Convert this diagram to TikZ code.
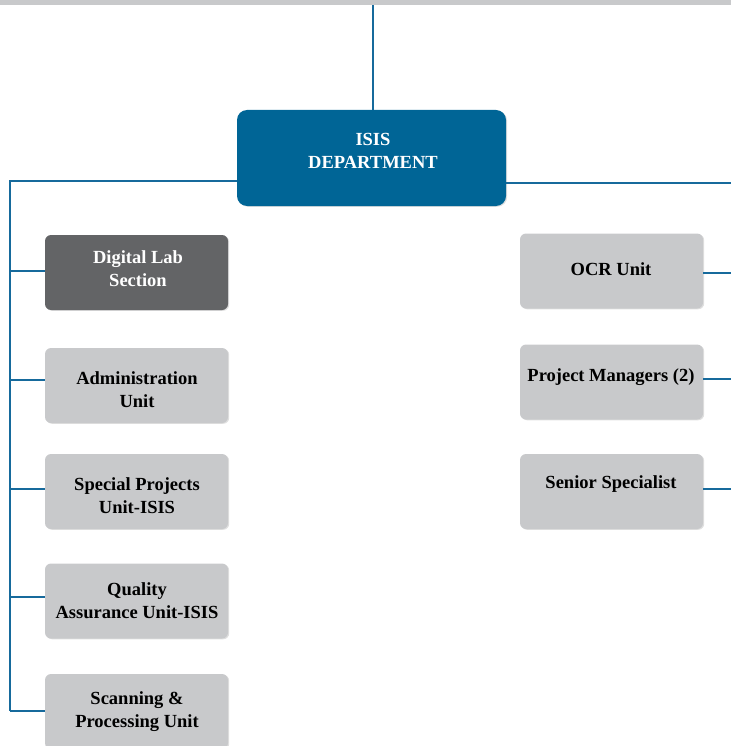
\documentclass[tikz,border=0pt]{standalone}
\usepackage{fontspec}
\setmainfont{Liberation Serif}
\usetikzlibrary{shadows}
\definecolor{isisblue}{RGB}{0,101,150}
\definecolor{lineblue}{RGB}{22,106,156}
\definecolor{darkbox}{RGB}{99,100,102}
\definecolor{lightbox}{RGB}{200,201,203}
\definecolor{topbar}{RGB}{200,201,203}
\tikzset{
  unitbox/.style={rectangle, rounded corners=6pt, minimum width=183pt, minimum height=75pt,
    inner sep=0pt, fill=lightbox, drop shadow={shadow xshift=1.2pt, shadow yshift=-0.8pt, opacity=0.25}},
  darkunit/.style={unitbox, fill=darkbox},
  deptbox/.style={rectangle, rounded corners=10pt, minimum width=269pt, minimum height=96pt,
    inner sep=0pt, fill=isisblue, drop shadow={shadow xshift=1.2pt, shadow yshift=-0.8pt, opacity=0.25}},
  lbl/.style={font=\fontsize{18.5}{22.5}\selectfont\bfseries, align=center, inner sep=0pt, text=black},
  wlbl/.style={lbl, text=white},
  conn/.style={draw=lineblue, line width=2pt},
}
\begin{document}
\begin{tikzpicture}[x=1pt, y=-1pt]
\useasboundingbox (0,0) rectangle (731,746);
\fill[topbar] (0,0) rectangle (731,5.5);

% boxes
\node[deptbox] (isis) at (371.5,158) {};
\node[darkunit] (dl) at (136.5,272.5) {};
\node[unitbox] (adm) at (136.5,385.5) {};
\node[unitbox] (spu) at (136.5,491.5) {};
\node[unitbox] (qa) at (136.5,601) {};
\node[unitbox] (scan) at (136.5,711.5) {};
\node[unitbox] (ocr) at (611.5,271) {};
\node[unitbox] (pm) at (611.5,382) {};
\node[unitbox] (ss) at (611.5,491.5) {};

% labels
\node[wlbl] (isisT) at (373,151) {ISIS\\DEPARTMENT};
\node[wlbl] (dlT) at (138,268.5) {Digital Lab\\Section};
\node[lbl] (admT) at (137,389.5) {Administration\\Unit};
\node[lbl] (spuT) at (137,495.5) {Special Projects\\Unit-ISIS};
\node[lbl] (qaT) at (137,600.5) {Quality\\Assurance Unit-ISIS};
\node[lbl] (scanT) at (137,711.5) {Scanning \&\\Processing Unit};
\node[lbl] (ocrT) at (611,269) {OCR Unit};
\node[lbl] (pmT) at (611,377) {Project Managers (2)};
\node[lbl] (ssT) at (611,484) {Senior Specialist};

% connector points
\coordinate (top) at (373,5.5);
\coordinate (lt) at (10,181);
\coordinate (rt) at (731,183);
\coordinate (redge) at (731,0);
\foreach \b/\s in {dl/1.5,adm/5.5,spu/2.5,qa/4,scan/0.5} {
  \coordinate (\b-p) at ([yshift=\s pt]\b.west);
}
\foreach \b/\s in {ocr/-1.5,pm/3,ss/2.5} {
  \coordinate (\b-p) at ([yshift=\s pt]\b.east);
}

% connectors
\draw[conn] (top) -- (top |- isis.north);
\draw[conn] (isis.west |- lt) -- (lt) -- (lt |- scan-p);
\foreach \b in {dl,adm,spu,qa,scan} {
  \draw[conn] (lt |- \b-p) -- (\b-p);
}
\draw[conn] (isis.east |- rt) -- (rt);
\foreach \b in {ocr,pm,ss} {
  \draw[conn] (\b-p) -- (redge |- \b-p);
}
\end{tikzpicture}
\end{document}
